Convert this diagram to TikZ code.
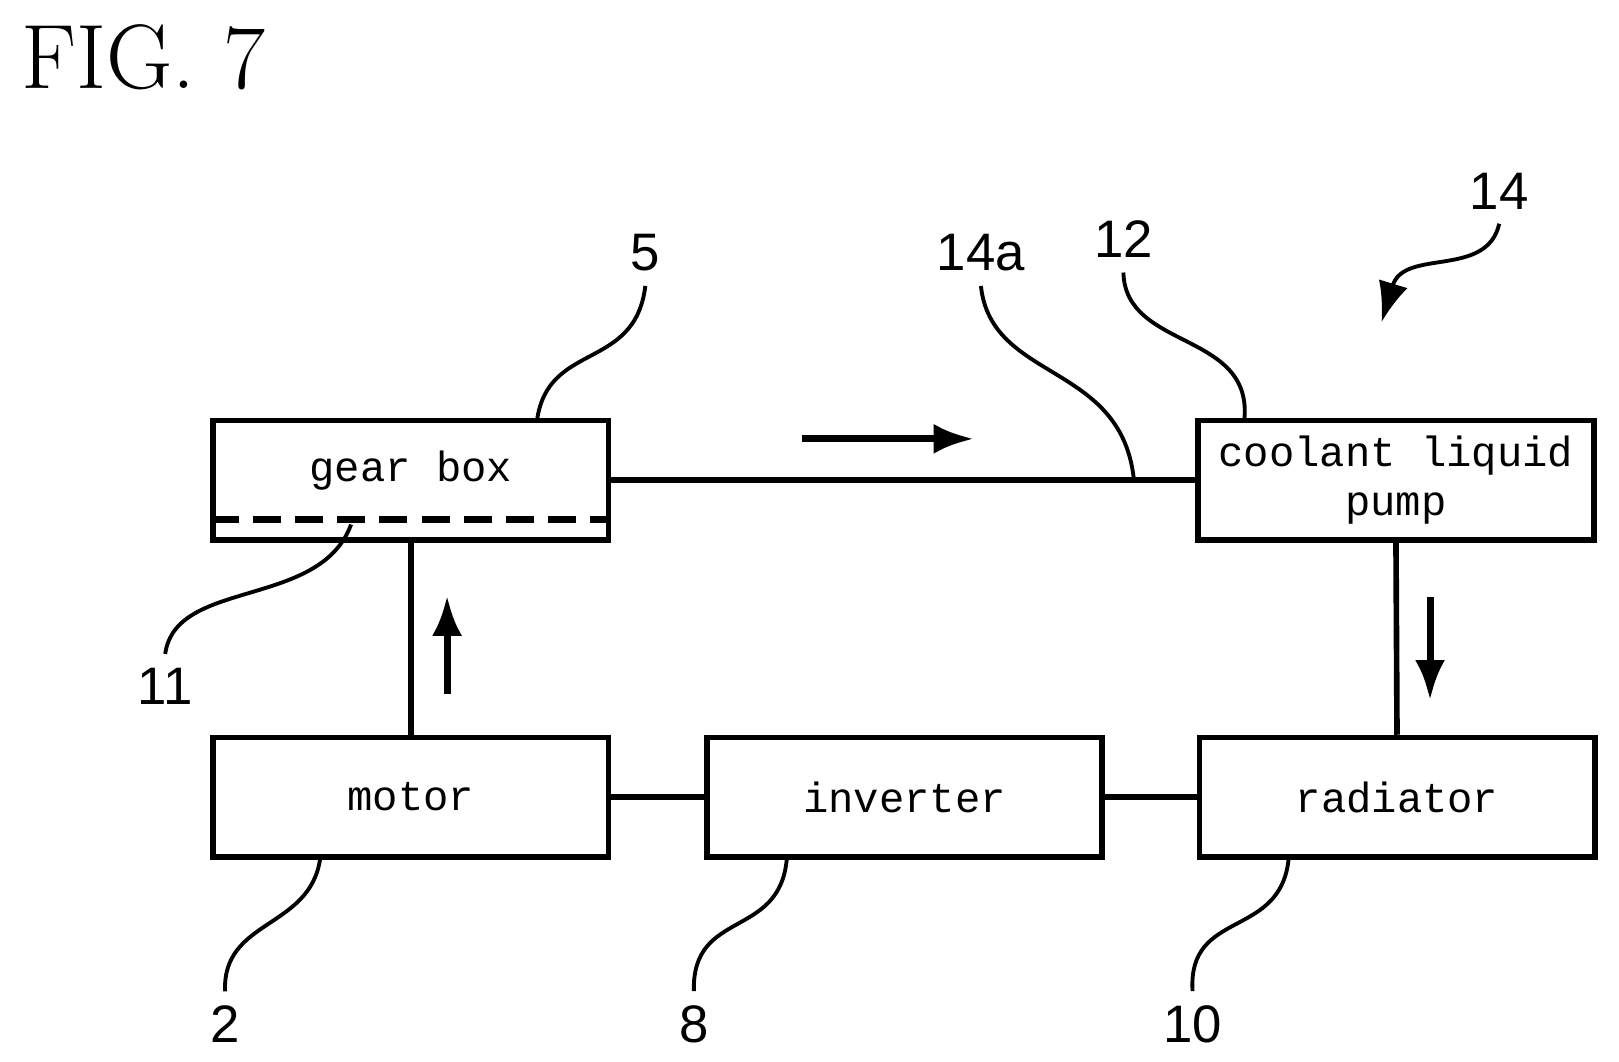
\documentclass[tikz,border=0pt]{standalone}
\usepackage{fontspec}
\setmonofont{Liberation Mono}
\setsansfont{Liberation Sans}
\usetikzlibrary{arrows.meta}
\begin{document}
\begin{tikzpicture}[x=0.01032cm,y=-0.01032cm,line width=1.6pt,
  box/.style={draw,rectangle,minimum width=3.95cm,minimum height=1.19cm,
    font=\ttfamily\fontsize{12}{14}\selectfont,align=center},
  lead/.style={line width=1.1pt},
  num/.style={font=\sffamily\fontsize{15}{16}\selectfont},
  flow/.style={-{Latex[length=4mm,width=3mm]},line width=2pt}]
\useasboundingbox (0,0) rectangle (1568,1028);
\node[font=\fontsize{26}{28}\selectfont,anchor=west,inner sep=0pt] (fig) at (18,55) {FIG. 7};
% blocks
\node[box] (gear) at (398,465) {};
\node[font=\ttfamily\fontsize{12}{14}\selectfont] (geartxt) at (398,456) {gear box};
\node[box,inner sep=1pt] (pump) at (1352,465) {coolant liquid\\pump};
\node[box] (motor) at (398,772) {motor};
\node[box] (inv) at (876,772) {inverter};
\node[box] (rad) at (1353,772) {radiator};
\draw[dashed,line width=2pt,dash pattern=on 8pt off 4pt] (gear.south west)++(0,-22) coordinate (oilw) -- ++(383,0) coordinate (oile);
% pipes
\draw (gear.east) -- (pump.west);
\draw (pump.south) -- (rad.north);
\draw (motor.north) -- (gear.south);
\draw (motor.east) -- (inv.west);
\draw (inv.east) -- (rad.west);
% flow arrows
\coordinate (f1) at (777,425); \coordinate (f1e) at (943,425);
\coordinate (f2) at (433,672); \coordinate (f2e) at (433,577);
\coordinate (f3) at (1385,578); \coordinate (f3e) at (1385,678);
\draw[flow] (f1) -- (f1e);
\draw[flow] (f2) -- (f2e);
\draw[flow] (f3) -- (f3e);
% reference numerals
\node[num] (n5) at (625,245) {5};
\node[num] (n14a) at (950,245) {14a};
\node[num] (n12) at (1088,232) {12};
\node[num] (n14) at (1452,185) {14};
\node[num] (n11) at (160,665) {11};
\node[num] (n2) at (218,992) {2};
\node[num] (n8) at (672,992) {8};
\node[num] (n10) at (1155,992) {10};
\coordinate (c5) at (520,408);
\coordinate (c14a) at (1098,463);
\coordinate (c12) at (1205,408);
\coordinate (c11) at (340,508);
\coordinate (c2) at (310,832);
\coordinate (c8) at (762,832);
\coordinate (c10) at (1248,832);
\coordinate (c14) at (1338,312);
\draw[lead] (c5) .. controls (530,330) and (615,360) .. (n5.south);
\draw[lead] (c14a) .. controls (1085,350) and (960,370) .. (n14a.south);
\draw[lead] (c12) .. controls (1215,320) and (1090,340) .. (n12.south);
\draw[lead] (c11) .. controls (310,590) and (170,560) .. (n11.north);
\draw[lead] (c2) .. controls (300,900) and (215,890) .. (n2.north);
\draw[lead] (c8) .. controls (755,910) and (670,880) .. (n8.north);
\draw[lead] (c10) .. controls (1240,910) and (1150,880) .. (n10.north);
\draw[lead,-{Latex[length=4mm,width=3mm]}] (n14.south) .. controls (1440,270) and (1360,240) .. (c14);
\end{tikzpicture}
\end{document}
